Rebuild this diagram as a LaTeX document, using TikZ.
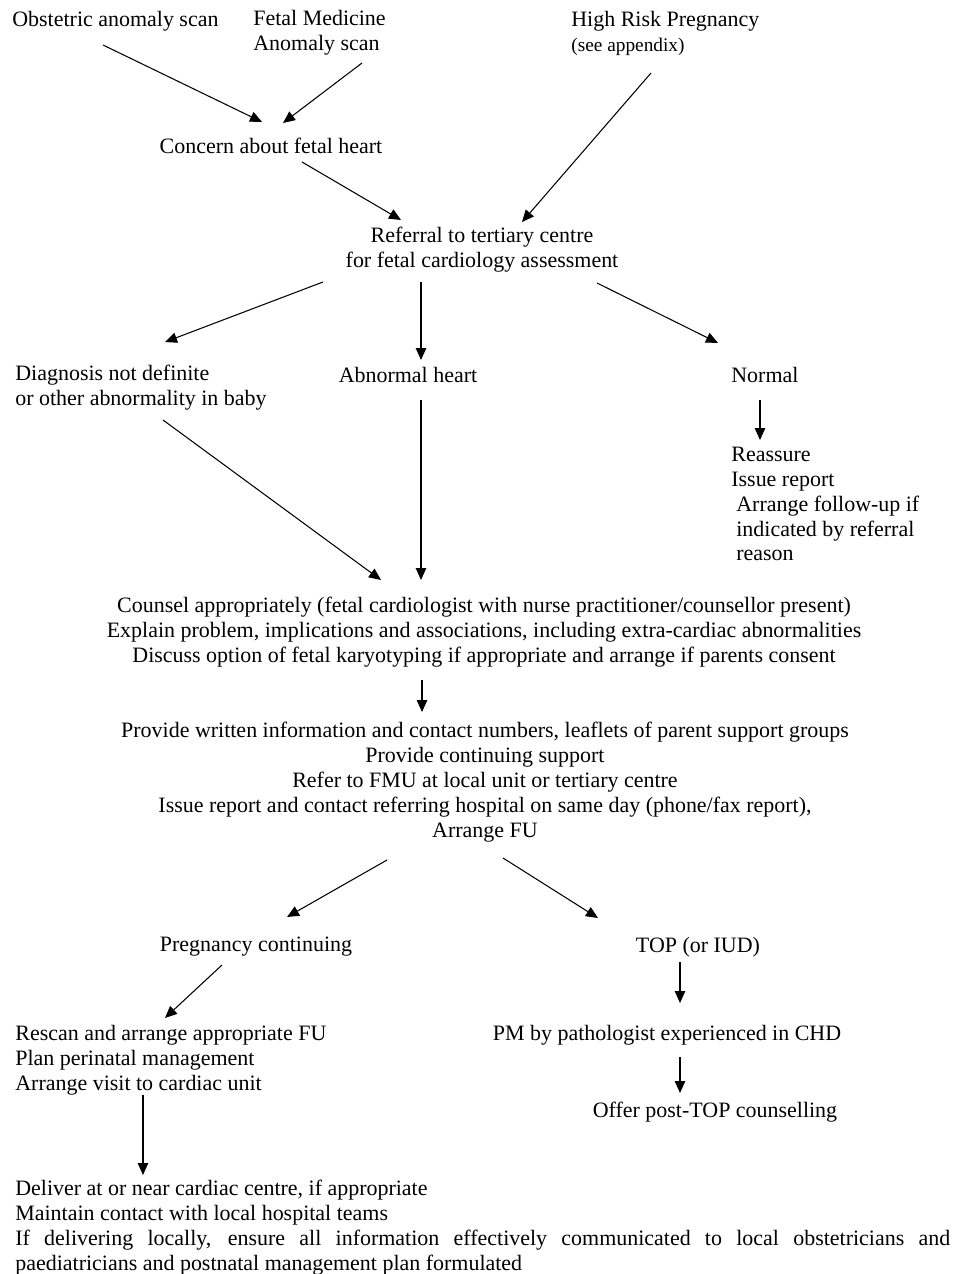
\documentclass[tikz,border=0pt]{standalone}
\usepackage{fontspec}
\setmainfont{Liberation Serif}
\usetikzlibrary{arrows.meta}

\begin{document}
\begin{tikzpicture}[x=0.02cm,y=-0.02cm,>={Triangle[length=0.24cm,width=0.21cm]}]
	\tikzstyle{txt}=[inner sep=0pt,font=\fontsize{12.5}{14.2}\selectfont]
	\tikzstyle{lft}=[txt,anchor=west,align=left]
	\tikzstyle{mid}=[txt,align=center]
	\tikzstyle{edge}=[draw=black,line width=0.6pt]

	\useasboundingbox (0,0) rectangle (954,1274);

	% sources
	\node [lft] (obst) at (12,21) {Obstetric anomaly scan};
	\node [lft] (fmed) at (253,33) {Fetal Medicine\\Anomaly scan};
	\node [lft] (hrisk) at (571,33) {High Risk Pregnancy\\{\fontsize{11}{13}\selectfont (see appendix)}};
	\node [mid] (concern) at (271,146) {Concern about fetal heart};
	\node [mid] (referral) at (482,250) {Referral to tertiary centre\\for fetal cardiology assessment};

	% outcome of assessment
	\node [lft] (diag) at (15,388) {Diagnosis not definite\\or other abnormality in baby};
	\node [mid] (abnormal) at (408,375) {Abnormal heart};
	\node [lft] (normal) at (731,375) {Normal};
	\node [lft] (normfu) at (731,504) {Reassure\\Issue report\\\hspace*{0.1cm}Arrange follow-up if\\\hspace*{0.1cm}indicated by referral\\\hspace*{0.1cm}reason};

	\node [mid] (counsel) at (484,632) {Counsel appropriately (fetal cardiologist with nurse practitioner/counsellor present)\\Explain problem, implications and associations, including extra-cardiac abnormalities\\Discuss option of fetal karyotyping if appropriate and arrange if parents consent};
	\node [mid] (provide) at (485,782) {Provide written information and contact numbers, leaflets of parent support groups\\Provide continuing support\\Refer to FMU at local unit or tertiary centre\\Issue report and contact referring hospital on same day (phone/fax report),\\Arrange FU};

	% pregnancy outcome
	\node [mid] (pregcont) at (256,947) {Pregnancy continuing};
	\node [mid] (top) at (698,947) {TOP (or IUD)};
	\node [lft] (rescan) at (15,1060) {Rescan and arrange appropriate FU\\Plan perinatal management\\Arrange visit to cardiac unit};
	\node [mid] (pm) at (667,1035) {PM by pathologist experienced in CHD};
	\node [mid] (offer) at (715,1112) {Offer post-TOP counselling};
	\node [txt,anchor=west,text width=18.7cm,align=justify] (deliver) at (15,1228) {Deliver at or near cardiac centre, if appropriate\\Maintain contact with local hospital teams\\If delivering locally, ensure all information effectively communicated to local obstetricians and\linebreak paediatricians and postnatal management plan formulated};

	\path[edge,->] ([shift={(91,24)}]obst.west) -- ([shift={(-9,-24)}]concern.center);
	\path[edge,->] ([shift={(109,30)}]fmed.west) -- ([shift={(12,-23)}]concern.center);
	\path[edge,->] ([shift={(31,16)}]concern.center) -- ([shift={(-81,-30)}]referral.center);
	\path[edge,->] ([shift={(80,40)}]hrisk.west) -- ([shift={(40,-28)}]referral.center);

	\path[edge,->] ([shift={(-159,32)}]referral.center) -- ([shift={(150,-46)}]diag.west);
	\path[edge,->] ([shift={(-61,32)}]referral.center) -- ([shift={(13,-15)}]abnormal.center);
	\path[edge,->] ([shift={(115,33)}]referral.center) -- ([shift={(-13,-32)}]normal.west);
	\path[edge,->] ([shift={(29,25)}]normal.west) -- ([shift={(29,-64)}]normfu.west);

	\path[edge,->] ([shift={(148,32)}]diag.west) -- ([shift={(-103,-52)}]counsel.center);
	\path[edge,->] ([shift={(13,25)}]abnormal.center) -- ([shift={(-63,-52)}]counsel.center);
	\path[edge,->] ([shift={(-62,48)}]counsel.center) -- ([shift={(-63,-70)}]provide.center);

	\path[edge,->] ([shift={(-98,78)}]provide.center) -- ([shift={(31,-30)}]pregcont.center);
	\path[edge,->] ([shift={(18,76)}]provide.center) -- ([shift={(-100,-29)}]top.center);
	\path[edge,->] ([shift={(-34,18)}]pregcont.center) -- ([shift={(150,-42)}]rescan.west);
	\path[edge,->] ([shift={(-18,15)}]top.center) -- ([shift={(13,-32)}]pm.center);
	\path[edge,->] ([shift={(13,22)}]pm.center) -- ([shift={(-35,-19)}]offer.center);
	\path[edge,->] ([shift={(128,35)}]rescan.west) -- ([shift={(128,-53)}]deliver.west);

\end{tikzpicture}
\end{document}
